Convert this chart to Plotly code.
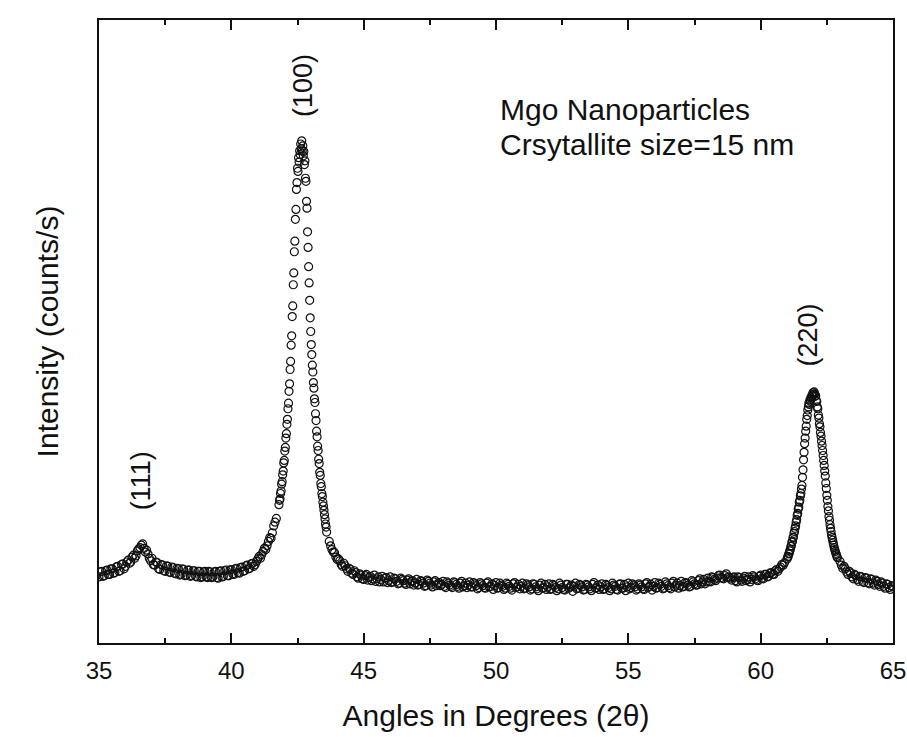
import numpy as np
import plotly.graph_objects as go

# ---- data: intensities, grouped by 2-theta scan segment ----
# each segment: (start angle, step, intensities)

# 35.00 - 41.70 deg, step 0.1
a_start, a_step = 35.0, 0.1
y_seg_a = [10.6, 11.5, 10.8, 11.7, 11.0, 11.9, 11.3, 12.3, 11.6, 12.7,
           12.3, 13.3, 13.0, 14.1, 14.0, 15.1, 15.7, 15.2, 14.9, 13.6,
           13.6, 12.5, 12.9, 11.8, 12.5, 11.5, 12.3, 11.3, 12.1, 11.1,
           11.9, 11.0, 11.8, 10.9, 11.7, 10.8, 11.6, 10.6, 11.5, 10.6,
           11.5, 10.5, 11.4, 10.6, 11.5, 10.4, 11.6, 10.7, 11.7, 10.8,
           11.8, 11.0, 12.0, 11.2, 12.2, 11.6, 12.5, 12.0, 12.8, 12.6,
           13.5, 13.6, 14.7, 15.0, 16.3, 16.8, 18.8, 20.0]
# 35.05 - 41.65 deg, step 0.1 (in-between readings)
a2_start, a2_step = 35.05, 0.1
y_seg_a2 = [11.4, 10.7, 11.6, 11.0, 11.9, 11.2, 12.2, 11.5, 12.6, 11.9,
            13.0, 12.8, 13.8, 13.6, 14.8, 15.3, 15.9, 14.6, 14.3, 13.2,
            12.6, 13.0, 11.9, 12.6, 11.6, 12.4, 11.4, 12.2, 11.2, 12.0,
            10.9, 11.9, 10.8, 11.7, 10.7, 11.6, 10.7, 11.5, 10.5, 11.4,
            10.6, 11.5, 10.5, 11.4, 10.5, 11.5, 10.6, 11.6, 10.8, 11.7,
            11.1, 11.9, 11.3, 12.1, 11.5, 12.4, 11.9, 12.7, 12.3, 13.1,
            13.9, 14.2, 15.2, 15.6, 16.9, 17.7, 19.4]

# (100) peak 41.80 - 43.60 deg, step 0.02
b_start, b_step = 41.80, 0.02
y_seg_b = [22.2, 22.9, 23.1, 24.0, 24.4, 25.5, 25.9, 27.0, 27.6, 28.9,
           29.3, 30.8, 31.4, 32.9, 33.6, 35.1, 35.9, 37.6, 38.5, 40.4,
           41.6, 43.9, 45.2, 47.8, 49.3, 52.4, 54.1, 57.5, 59.4, 62.8,
           64.5, 68.0, 69.6, 72.8, 73.9, 76.2, 75.7, 77.9, 77.2, 79.0,
           78.4, 80.1, 79.3, 80.6, 79.0, 79.8, 78.2, 78.9, 76.8, 77.4,
           74.6, 74.1, 70.9, 69.8, 66.0, 63.5, 60.4, 57.8, 55.0, 52.2,
           50.0, 47.9, 46.3, 44.6, 43.5, 41.8, 40.9, 39.2, 38.6, 36.8,
           35.7, 34.0, 33.1, 31.6, 30.9, 29.5, 28.8, 27.4, 26.9, 25.6,
           25.1, 24.0, 23.5, 22.6, 22.0, 21.3, 20.6, 19.9, 19.1, 18.6,
           17.8]

# 43.70 - 60.90 deg, step 0.1
c_start, c_step = 43.7, 0.1
y_seg_c = [16.3, 15.0, 14.5, 13.4, 13.2, 12.3, 12.4, 11.5, 11.8, 11.0,
           11.3, 10.4, 10.9,
           10.2, 11.0, 10.5, 10.0, 10.9, 10.3, 9.8, 10.7, 10.4, 9.7,
           10.6, 9.8, 10.3, 9.5, 10.4, 10.0, 9.4, 10.3, 9.9, 9.3,
           10.2, 9.4, 9.9, 9.1, 10.1, 9.6, 9.0, 10.0, 9.5, 9.2,
           9.9, 8.9, 9.6, 9.1, 9.8, 9.4, 8.8, 9.9, 9.2, 8.9,
           9.8, 9.0, 9.5, 8.7, 9.7, 9.2, 8.8, 9.8, 9.1, 8.6,
           9.7, 8.9, 9.3, 8.6, 9.6, 9.1, 8.5, 9.7, 9.0, 8.7,
           9.6, 8.8, 9.3, 8.5, 9.5, 9.0, 8.4, 9.6, 8.9, 8.6,
           9.5, 8.7, 9.2, 8.4, 9.6, 8.9, 8.5, 9.4, 9.0, 8.3,
           9.6, 8.8, 9.3, 8.5, 9.4, 9.0, 8.4, 9.7, 8.9, 8.6,
           9.5, 8.7, 9.2, 8.4, 9.6, 9.1, 8.5, 9.5, 8.8, 8.4,
           9.6, 8.9, 9.3, 8.5, 9.5, 9.0, 8.6, 9.7, 9.1, 8.5,
           9.7, 8.9, 9.4, 8.7, 9.8, 9.2, 8.7, 9.9, 9.3, 8.8,
           9.9, 9.1, 9.6, 9.0, 10.0, 9.5, 9.3, 10.3, 9.8, 9.5,
           10.4, 9.8, 10.5, 10.0, 10.8, 10.5, 10.3, 11.1, 10.6, 10.1,
           10.6, 9.8, 10.5, 9.9, 10.7, 10.2, 9.8, 10.8, 10.3, 10.0,
           10.9, 10.3, 11.0, 10.7, 11.3, 11.0, 11.8, 11.9, 12.6, 12.9]
# 43.75 - 60.85 deg, step 0.1 (in-between readings)
c2_start, c2_step = 43.75, 0.1
y_seg_c2 = [15.6, 14.6, 13.8, 13.5, 12.6, 12.8, 11.9, 12.0, 11.2, 11.6,
            10.6, 11.1, 10.3,
            10.8, 10.1, 10.7, 10.3, 9.9, 10.6, 10.2, 9.8, 10.5, 10.0,
            9.7, 10.4, 9.9, 9.6, 10.2, 9.6, 10.1, 9.5, 10.0, 9.6,
            9.3, 10.0, 9.6, 9.2, 9.9, 9.3, 9.8, 9.2, 9.7, 9.4,
            9.1, 9.8, 9.3, 8.9, 9.7, 9.1, 9.6, 9.0, 9.6, 9.3,
            9.0, 9.7, 9.2, 8.9, 9.5, 8.9, 9.6, 9.0, 9.5, 9.2,
            8.8, 9.6, 9.1, 8.8, 9.4, 8.8, 9.5, 8.9, 9.4, 9.1,
            8.7, 9.5, 9.0, 8.7, 9.4, 8.7, 9.3, 8.8, 9.4, 9.0,
            8.6, 9.4, 8.9, 8.7, 9.3, 8.6, 9.4, 8.8, 9.3, 9.1,
            8.7, 9.4, 9.0, 8.6, 9.3, 8.7, 9.4, 8.8, 9.3, 9.0,
            8.6, 9.4, 8.9, 8.7, 9.3, 8.6, 9.4, 8.8, 9.4, 9.0,
            8.7, 9.5, 9.0, 8.7, 9.3, 8.7, 9.5, 8.9, 9.4, 9.1,
            8.8, 9.6, 9.1, 8.8, 9.5, 8.9, 9.6, 9.0, 9.6, 9.2,
            9.0, 9.7, 9.3, 9.1, 9.8, 9.3, 10.0, 9.5, 10.2, 9.8,
            9.9, 10.6, 10.2, 10.4, 10.9, 10.4, 10.8, 10.5, 10.4, 10.5,
            10.0, 10.6, 10.1, 10.4, 10.0, 10.6, 10.2, 10.6, 10.1, 10.7,
            10.4, 11.0, 10.6, 11.2, 11.0, 11.6, 11.5, 12.2, 12.5]

# (220) peak 61.00 - 62.90 deg, step 0.02
d_start, d_step = 61.00, 0.02
y_seg_d = [13.5, 13.8, 13.9, 14.3, 14.4, 14.8, 15.0, 15.5, 15.6, 16.2,
           16.3, 16.9, 17.0, 17.6, 17.9, 18.4, 18.8, 19.4, 19.8, 20.5,
           20.8, 21.5, 21.8, 22.6, 22.9, 23.6, 24.0, 24.7, 25.3, 26.6,
           27.8, 29.4, 30.6, 32.0, 32.9, 34.0, 34.8, 35.9, 36.5, 37.4,
           37.9, 38.5, 38.3, 39.0, 38.8, 39.4, 39.2, 39.8, 39.6, 40.2,
           39.9, 40.3, 40.0, 39.6, 39.7, 38.9, 38.8, 37.9, 37.6, 36.6,
           36.1, 35.2, 34.7, 33.8, 33.2, 32.4, 31.7, 30.9, 30.1, 29.3,
           28.5, 27.6, 26.8, 25.7, 24.8, 23.7, 22.9, 21.9, 21.2, 20.3,
           19.7, 19.0, 18.4, 17.9, 17.3, 16.9, 16.5, 16.1, 15.7, 15.3,
           15.0, 14.7, 14.4, 14.2, 13.9, 13.7]

# 63.00 - 65.00 deg, step 0.1
e_start, e_step = 63.0, 0.1
y_seg_e = [13.1, 12.0, 11.9, 11.0, 11.2, 10.3, 10.8, 9.9, 10.6, 9.7,
           10.4, 9.5, 10.2, 9.3, 9.9, 9.1, 9.6, 8.8, 9.4, 8.6, 9.0]
# 63.05 - 64.95 deg, step 0.1 (in-between readings)
e2_start, e2_step = 63.05, 0.1
y_seg_e2 = [12.5, 12.3, 11.4, 11.5, 10.6, 11.0, 10.2, 10.7, 9.9, 10.5,
            9.7, 10.3, 9.6, 10.1, 9.4, 9.8, 9.1, 9.5, 8.9, 9.2]

segments = [(a_start, a_step, y_seg_a), (a2_start, a2_step, y_seg_a2),
            (b_start, b_step, y_seg_b),
            (c_start, c_step, y_seg_c), (c2_start, c2_step, y_seg_c2),
            (d_start, d_step, y_seg_d),
            (e_start, e_step, y_seg_e), (e2_start, e2_step, y_seg_e2)]

two_theta = np.concatenate([np.round(s + st * np.arange(len(v)), 2) for s, st, v in segments])
intensity = np.concatenate([np.asarray(v, dtype=float) for _, _, v in segments])

peak_labels = ["(111)", "(100)", "(220)"]
peak_label_x = [36.6, 42.71, 61.8]
peak_label_y = [26.0, 89.4, 49.4]

info_lines = ["Mgo Nanoparticles", "Crsytallite size=15 nm"]
info_x = 50.07
info_y = [85.6, 80.0]

x_ticks = [35, 40, 45, 50, 55, 60, 65]

FONT = "Liberation Sans, Arial, sans-serif"
INK = "#111111"

fig = go.Figure()
fig.add_trace(go.Scatter(
    x=two_theta, y=intensity, mode="markers",
    marker=dict(symbol="circle-open", size=8, color=INK,
                line=dict(width=1.2, color=INK)),
    showlegend=False, hoverinfo="x+y"))

for lab, lx, ly in zip(peak_labels, peak_label_x, peak_label_y):
    fig.add_annotation(x=lx, y=ly, text=lab, textangle=-90, showarrow=False,
                       font=dict(family=FONT, size=27, color=INK))

for line, ly in zip(info_lines, info_y):
    fig.add_annotation(x=info_x, y=ly, text=line, xanchor="left", yanchor="middle",
                       showarrow=False, font=dict(family=FONT, size=30, color=INK))

fig.update_layout(
    width=907, height=737,
    margin=dict(l=99, r=14, t=20, b=94, autoexpand=False),
    paper_bgcolor="white", plot_bgcolor="white",
    font=dict(family=FONT, color=INK),
    xaxis=dict(range=[35, 65], tickvals=x_ticks, ticks="inside", ticklen=10,
               tickwidth=2, tickcolor=INK, showline=True, linewidth=2,
               linecolor=INK, mirror="ticks", showgrid=False, zeroline=False,
               tickfont=dict(size=24), ticklabelstandoff=5,
               minor=dict(dtick=2.5, tick0=35, ticks="inside", ticklen=5,
                          tickwidth=2, tickcolor=INK, showgrid=False),
               title=dict(text="Angles in Degrees (2θ)", font=dict(size=30), standoff=22)),
    yaxis=dict(range=[0, 100], showticklabels=False, ticks="", showline=True,
               linewidth=2, linecolor=INK, mirror=True, showgrid=False,
               zeroline=False,
               title=dict(text="Intensity (counts/s)", font=dict(size=30), standoff=30)),
)

fig.write_html("out.html", config={"displayModeBar": False},
               post_script="document.body.style.margin='0';document.body.style.overflow='hidden';")
